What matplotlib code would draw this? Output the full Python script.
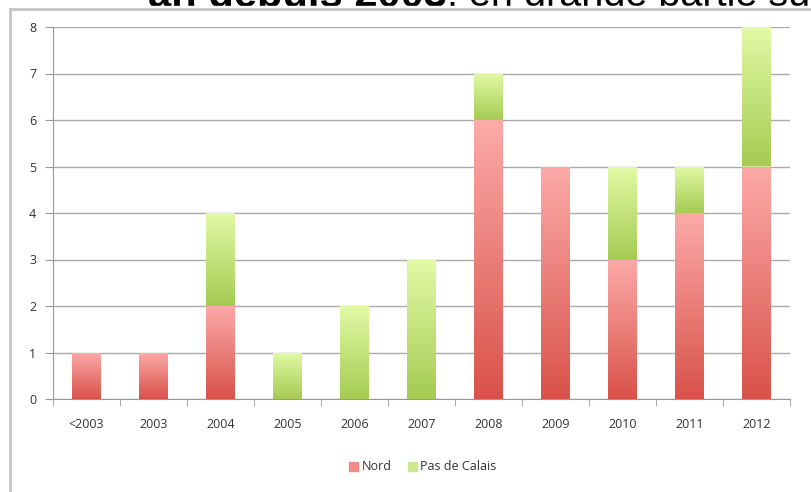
import matplotlib.pyplot as plt
import matplotlib.colors as mcolors
import numpy as np

years = ['<2003', '2003', '2004', '2005', '2006', '2007', '2008', '2009', '2010', '2011', '2012']
nord = [1, 1, 2, 0, 0, 0, 6, 5, 3, 4, 5]
pas_de_calais = [0, 0, 2, 1, 2, 3, 1, 0, 2, 1, 3]

plt.rcParams['font.family'] = ['Open Sans', 'DejaVu Sans']

fig = plt.figure(figsize=(8.12, 4.92), dpi=100)
ax = fig.add_axes([53 / 812, 1 - 399 / 492, 737 / 812, 372 / 492])

x = np.arange(len(years))
b1 = ax.bar(x, nord, width=0.42, color='#f28a86', zorder=2)
b2 = ax.bar(x, pas_de_calais, width=0.42, bottom=nord, color='#cbe88a', zorder=2)

# vertical gradient inside each bar segment
grad = np.linspace(0, 1, 256).reshape(-1, 1)
red = mcolors.LinearSegmentedColormap.from_list('r', ['#d9524a', '#fcaaa8'])
green = mcolors.LinearSegmentedColormap.from_list('g', ['#a5cb52', '#e2faa6'])
for bars, cmap in [(b1, red), (b2, green)]:
    for p in bars:
        if p.get_height() <= 0:
            continue
        x0, y0 = p.get_x(), p.get_y()
        im = ax.imshow(grad, cmap=cmap, origin='lower', aspect='auto', zorder=3,
                       extent=[x0, x0 + p.get_width(), y0, y0 + p.get_height()])
        im.set_clip_path(p)

ax.set_xlim(-0.5, len(years) - 0.5)
ax.set_ylim(0, 8)
ax.set_yticks(range(9))
ax.set_xticks(x)
ax.set_xticklabels(years)
ax.set_xticks(np.arange(-0.5, len(years)), minor=True)
ax.tick_params(axis='x', which='major', length=0, pad=14, labelsize=9, labelcolor='#333333')
ax.tick_params(axis='x', which='minor', length=5, color='#999999', direction='out')
ax.tick_params(axis='y', length=6, color='#999999', labelsize=9, labelcolor='#333333', pad=6)
ax.grid(axis='y', color='#aaaaaa', linewidth=1, zorder=0)
for s in ['top', 'right']:
    ax.spines[s].set_visible(False)
for s in ['left', 'bottom']:
    ax.spines[s].set_color('#999999')

# legend
h1 = plt.Rectangle((0, 0), 1, 1, color='#f28a86')
h2 = plt.Rectangle((0, 0), 1, 1, color='#cbe88a')
fig.legend([h1, h2], ['Nord', 'Pas de Calais'], loc='center', bbox_to_anchor=(423 / 812, 1 - 467 / 492),
           ncol=2, frameon=False, fontsize=9, handlelength=0.7, handleheight=0.7,
           handletextpad=0.3, columnspacing=1.3, labelcolor='#333333')

# cropped heading above the chart (only the lower part shows)
base = 1 - 6.5 / 492
t1 = fig.text(148 / 812, base, 'an depuis 2003', fontsize=30, fontweight='bold',
              family='Liberation Sans', va='baseline')
fig.canvas.draw()
bb = t1.get_window_extent()
fig.text(bb.x1 / 812, base, ', en grande partie sur', fontsize=28.5,
         family='Liberation Sans', va='baseline')
fig.add_artist(plt.Rectangle((0, 1 - 20 / 492), 1, 13.5 / 492, transform=fig.transFigure,
                             color='white', zorder=5))

# chart frame
fig.add_artist(plt.Line2D([10 / 812, 10 / 812], [0, 1 - 8.5 / 492], color='#c4c4c4', lw=2, zorder=6))
fig.add_artist(plt.Line2D([10 / 812, 1], [1 - 8.5 / 492, 1 - 8.5 / 492], color='#c4c4c4', lw=2, zorder=6))

fig.savefig('out.png', dpi=100)
